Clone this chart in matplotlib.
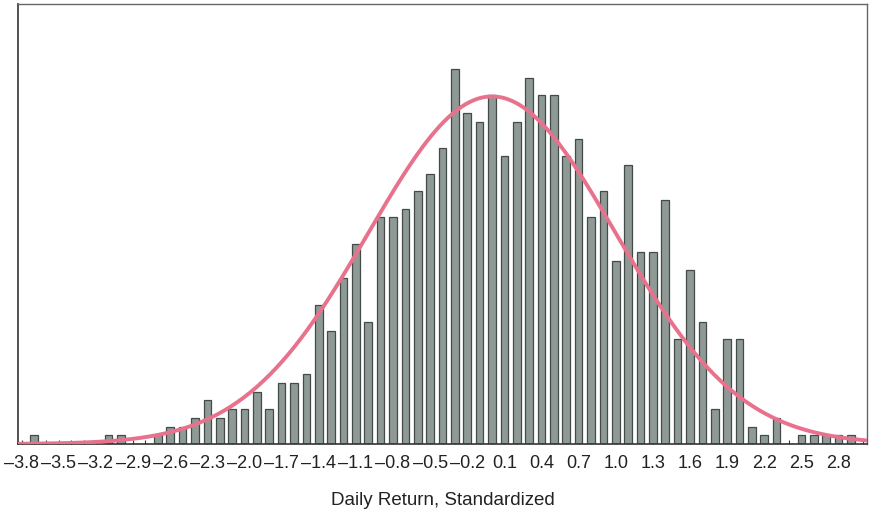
import numpy as np
import matplotlib
matplotlib.use("Agg")
import matplotlib.pyplot as plt

plt.rcParams['font.family'] = ['Liberation Sans', 'DejaVu Sans']

# bin centres (standardized daily return) and counts per 0.1 bin
bin_width = 0.1
bin_centers = [round(-3.8 + 0.1 * i, 1) for i in range(69)]
counts = [
    0, 1, 0, 0, 0, 0, 0, 1, 1, 0,      # -3.8 .. -2.9
    0, 1, 2, 2, 3, 5, 3, 4, 4, 6,      # -2.8 .. -1.9
    4, 7, 7, 8, 16, 13, 19, 23, 14, 26,  # -1.8 .. -0.9
    26, 27, 29, 31, 34, 43, 38, 37, 40, 33,  # -0.8 .. 0.1
    37, 42, 40, 40, 33, 35, 26, 29, 21, 32,  # 0.2 .. 1.1
    22, 22, 28, 12, 20, 14, 4, 12, 12, 2,    # 1.2 .. 2.1
    1, 3, 0, 1, 1, 1, 1, 1, 0,               # 2.2 .. 3.0
]
tick_values = [-3.8, -3.5, -3.2, -2.9, -2.6, -2.3, -2.0, -1.7, -1.4, -1.1,
               -0.8, -0.5, -0.2, 0.1, 0.4, 0.7, 1.0, 1.3, 1.6, 1.9, 2.2, 2.5, 2.8]

# fitted normal curve (standardized: mean 0, sd 1), scaled to counts
mu, sigma = 0.0, 1.0
n_obs = sum(counts)

fig = plt.figure(figsize=(8.74, 5.13), dpi=100)
ax = fig.add_axes([18 / 874, 1 - 444 / 513, (867 - 18) / 874, (444 - 4) / 513])

ax.bar(bin_centers, counts, width=bin_width * 0.62, color='#8f9a97',
       edgecolor='#434b48', linewidth=0.9, zorder=2)

xs = np.linspace(-3.83, 3.03, 400)
ys = n_obs * bin_width * np.exp(-0.5 * ((xs - mu) / sigma) ** 2) / (sigma * np.sqrt(2 * np.pi))
ax.plot(xs, ys, color='#e8728d', linewidth=2.8, zorder=3, solid_capstyle='round')

ax.set_xlim(-3.83, 3.03)
ax.set_ylim(0, 50.5)

ax.set_xticks(tick_values)
ax.set_xticklabels([f"{v:.1f}".replace('-', '\u2013') for v in tick_values])
ax.set_xticks(bin_centers, minor=True)
ax.tick_params(axis='x', which='both', direction='in', length=3, width=0.8,
               color='#333333', labelsize=13, pad=8, labelcolor='#222222')
ax.set_yticks([])

for side in ['left', 'bottom']:
    ax.spines[side].set_color('#333333')
    ax.spines[side].set_linewidth(1.2)
for side in ['top', 'right']:
    ax.spines[side].set_color('#666666')
    ax.spines[side].set_linewidth(1.0)

ax.set_xlabel('Daily Return, Standardized', fontsize=13.5, color='#222222', labelpad=14)

fig.savefig('out.png', dpi=100)
